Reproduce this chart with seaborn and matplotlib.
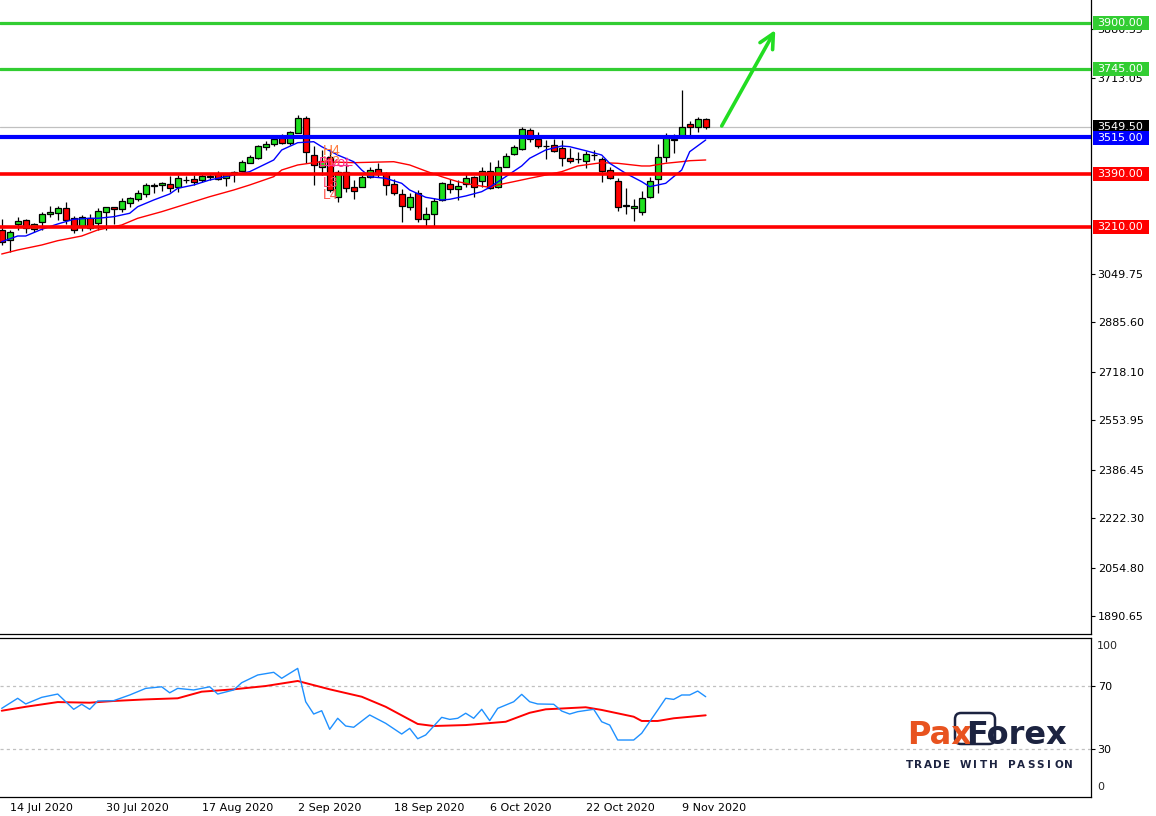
import numpy as np
import pandas as pd
import matplotlib
matplotlib.use("Agg")
import matplotlib.pyplot as plt
import matplotlib.transforms as mtransforms
from matplotlib.patches import Rectangle, FancyBboxPatch
import seaborn as sns

sns.set_style("white")
plt.rcParams["font.family"] = ["DejaVu Sans"]

# ---------------- data ----------------
dates = pd.bdate_range("2020-07-13", "2020-11-12")

opens = [3198.8, 3164.9, 3219.2, 3231.7, 3201.2, 3224.9, 3252.0, 3255.4, 3272.4, 3238.5,
         3212.4, 3240.5, 3223.6, 3260.9, 3275.8, 3270.0, 3291.3, 3303.9, 3319.8, 3347.9,
         3350.3, 3354.7, 3343.5, 3368.3, 3371.7, 3368.3, 3379.5, 3388.6, 3374.0, 3388.6,
         3399.8, 3426.9, 3441.8, 3479.1, 3489.3, 3509.6, 3492.7, 3528.6, 3577.4, 3453.0,
         3412.3, 3446.2, 3311.7, 3396.4, 3343.5, 3345.6, 3379.5, 3405.6, 3393.0, 3354.7,
         3320.8, 3277.8, 3324.2, 3235.1, 3252.0, 3300.5, 3353.7, 3336.8, 3353.7, 3377.4,
         3364.9, 3399.8, 3343.5, 3413.4, 3455.4, 3472.3, 3537.7, 3506.2, 3483.5, 3485.9,
         3475.7, 3442.8, 3439.4, 3433.7, 3452.5, 3439.4, 3402.2, 3364.9, 3281.5, 3274.4,
         3260.9, 3309.6, 3370.7, 3447.2, 3505.0, 3518.4, 3557.0, 3548.9, 3574.0]
highs = [3236.1, 3198.8, 3243.9, 3236.1, 3221.5, 3260.9, 3280.2, 3280.2, 3293.7, 3246.3,
         3249.7, 3253.1, 3272.4, 3277.8, 3277.8, 3307.3, 3311.7, 3334.4, 3357.1, 3357.1,
         3362.5, 3382.9, 3385.2, 3381.8, 3385.2, 3391.0, 3391.0, 3399.8, 3393.0, 3398.8,
         3436.1, 3453.0, 3486.9, 3499.4, 3513.0, 3524.2, 3535.4, 3588.6, 3586.2, 3483.5,
         3469.9, 3469.9, 3402.2, 3425.9, 3368.3, 3385.2, 3413.4, 3426.9, 3396.4, 3370.7,
         3336.8, 3324.2, 3334.4, 3276.8, 3307.3, 3362.5, 3370.7, 3368.3, 3393.0, 3381.8,
         3413.4, 3428.3, 3436.1, 3458.8, 3486.9, 3548.9, 3545.5, 3532.0, 3503.8, 3506.2,
         3503.8, 3475.7, 3464.2, 3467.6, 3470.0, 3447.2, 3411.3, 3376.1, 3342.2, 3303.9,
         3331.0, 3379.5, 3489.3, 3528.6, 3524.2, 3673.3, 3568.2, 3582.8, 3579.4]
lows = [3148.0, 3125.3, 3198.8, 3188.7, 3193.1, 3198.8, 3243.9, 3232.7, 3219.2, 3188.7,
        3195.4, 3198.8, 3198.8, 3198.8, 3219.2, 3260.9, 3277.8, 3298.1, 3311.7, 3323.2,
        3332.0, 3328.6, 3328.6, 3357.1, 3351.3, 3362.5, 3368.3, 3368.3, 3347.9, 3362.5,
        3396.4, 3424.9, 3438.4, 3469.9, 3483.5, 3490.3, 3486.9, 3526.6, 3424.9, 3351.3,
        3385.2, 3327.6, 3294.7, 3328.6, 3303.9, 3343.5, 3374.0, 3379.5, 3317.4, 3317.4,
        3227.0, 3266.6, 3227.0, 3212.4, 3210.0, 3298.1, 3323.2, 3300.5, 3345.6, 3311.7,
        3343.5, 3336.8, 3340.1, 3411.3, 3453.0, 3469.9, 3498.1, 3477.7, 3438.4, 3464.2,
        3415.7, 3424.9, 3426.9, 3407.9, 3436.1, 3362.5, 3370.7, 3264.2, 3253.1, 3230.3,
        3249.7, 3306.3, 3325.2, 3430.3, 3460.8, 3515.0, 3517.4, 3532.0, 3540.1]
closes = [3159.2, 3192.1, 3229.3, 3204.6, 3218.1, 3253.1, 3259.8, 3272.4, 3232.7, 3198.8,
          3241.9, 3204.6, 3263.2, 3275.8, 3269.0, 3297.1, 3306.3, 3324.2, 3351.3, 3352.3,
          3358.1, 3340.1, 3374.0, 3369.5, 3362.5, 3381.8, 3380.5, 3370.7, 3388.6, 3395.4,
          3429.3, 3447.2, 3483.5, 3490.3, 3506.2, 3492.7, 3529.9, 3577.4, 3462.2, 3419.1,
          3432.7, 3334.4, 3396.4, 3340.1, 3332.0, 3379.5, 3402.2, 3388.6, 3351.3, 3325.2,
          3280.2, 3309.6, 3236.1, 3253.1, 3297.1, 3357.1, 3336.8, 3347.9, 3374.0, 3345.6,
          3399.8, 3340.1, 3413.4, 3450.6, 3479.1, 3540.1, 3506.2, 3484.5, 3484.5, 3467.6,
          3441.8, 3433.7, 3439.0, 3455.4, 3453.0, 3399.8, 3374.0, 3277.8, 3282.0, 3281.2,
          3306.3, 3364.9, 3445.2, 3509.6, 3507.0, 3546.9, 3546.9, 3574.0, 3549.5]

# fast moving average (blue), read at candle indices
ma_fast_idx = [0, 2, 3, 5, 7, 9, 11, 12, 14, 16, 17, 19, 21, 22, 24, 26, 29, 31, 34, 35,
               37, 39, 40, 42, 44, 45, 46, 48, 50, 51, 53, 55, 56, 58, 60, 61, 63, 65, 66, 68,
               70, 71, 73, 75, 76, 78, 80, 81, 83, 85, 86, 88]
ma_fast = [3159.2, 3178.5, 3178.5, 3201.2, 3219.2, 3235.1, 3238.5, 3238.5, 3243.9, 3255.5,
           3277.8, 3300.5, 3320.9, 3340.2, 3351.4, 3368.3, 3385.3, 3396.5, 3436.1, 3470.0,
           3494.7, 3498.1, 3481.2, 3453.0, 3430.3, 3402.2, 3379.5, 3374.1, 3357.1, 3334.4,
           3309.7, 3300.5, 3302.9, 3314.1, 3328.7, 3343.6, 3379.5, 3416.0, 3441.9, 3470.0,
           3483.5, 3481.2, 3467.6, 3453.0, 3424.9, 3391.0, 3362.6, 3345.6, 3357.1, 3402.2,
           3464.2, 3503.9]
# slow moving average (red)
ma_slow_idx = [0, 2, 5, 7, 10, 12, 15, 17, 20, 22, 24, 26, 29, 31, 34, 35, 37, 39, 40, 44,
               49, 51, 53, 55, 57, 59, 61, 62, 64, 66, 67, 70, 72, 75, 77, 80, 81, 83, 85, 86, 88]
ma_slow = [3117.5, 3131.1, 3148.0, 3162.6, 3178.5, 3198.9, 3215.8, 3238.5, 3260.9, 3277.8,
           3294.8, 3311.7, 3334.4, 3351.4, 3379.5, 3402.2, 3419.2, 3427.0, 3430.3, 3427.0,
           3430.3, 3419.2, 3398.8, 3379.5, 3362.6, 3351.4, 3343.6, 3351.4, 3362.6, 3374.1,
           3379.5, 3396.5, 3415.8, 3427.0, 3424.9, 3415.8, 3415.8, 3424.9, 3430.3, 3433.7, 3436.1]

# oscillator (lower panel)
osc_idx = [0, 2, 3, 5, 7, 9, 10, 11, 12, 14, 16, 18, 20, 21, 22, 24, 26, 27, 29, 30,
           32, 34, 35, 37, 38, 39, 40, 41, 42, 43, 44, 46, 48, 50, 51, 52, 53, 55, 56, 57,
           58, 59, 60, 61, 62, 64, 65, 66, 67, 69, 70, 71, 72, 74, 75, 76, 77, 79, 80, 82,
           83, 84, 85, 86, 87, 88]
osc = [56.0, 62.4, 58.8, 63.0, 65.1, 55.4, 58.6, 55.4, 60.7, 60.9,
       64.5, 68.7, 69.7, 65.9, 68.7, 67.7, 69.7, 65.1, 67.7, 72.3,
       77.2, 78.9, 75.1, 81.4, 60.2, 52.4, 54.5, 42.7, 49.7, 44.8,
       44.0, 51.8, 46.5, 39.7, 43.3, 36.7, 39.1, 50.3, 49.0, 49.7,
       52.9, 49.7, 55.4, 48.2, 56.0, 60.2, 64.9, 60.2, 58.8, 58.6,
       54.3, 52.4, 53.9, 55.4, 47.5, 45.4, 35.9, 35.9, 40.2, 54.9,
       62.4, 61.7, 64.5, 64.5, 67.0, 63.4]
sig_idx = [0, 3, 7, 11, 14, 18, 22, 25, 29, 33, 37, 41, 45, 48, 52, 54, 58, 63, 66, 68,
           73, 75, 79, 80, 82, 84, 88]
sig = [54.5, 57.0, 60.0, 59.6, 60.7, 61.7, 62.4, 66.6, 68.1, 70.2, 73.4, 68.1, 63.4, 57.0,
       46.1, 44.8, 45.4, 47.5, 53.2, 55.4, 56.7, 55.0, 50.7, 48.0, 48.0, 49.7, 51.6]

# horizontal levels
green_levels = [3900.00, 3745.00]
blue_levels = [3515.00]
red_levels = [3390.00, 3210.00]
last_price = 3549.50

price_ticks = [1890.65, 2054.80, 2222.30, 2386.45, 2553.95, 2718.10, 2885.60, 3049.75,
               3713.05, 3880.35]
osc_ticks = [70, 30]
date_tick_idx = [1, 13, 25, 37, 49, 61, 73, 85]
date_tick_labels = ["14 Jul 2020", "30 Jul 2020", "17 Aug 2020", "2 Sep 2020",
                    "18 Sep 2020", "6 Oct 2020", "22 Oct 2020", "9 Nov 2020"]

pivot_labels = ["H4", "H3", "Pivot", "L3", "L4"]
pivot_values = [3468.0, 3428.0, 3426.0, 3358.0, 3318.0]
pivot_idx = 40.2

arrow_from = (90.0, 3551.3)
arrow_to = (96.7, 3876.6)

# ---------------- layout ----------------
W, H = 1156, 816
fig = plt.figure(figsize=(W / 100, H / 100), dpi=100)
fig.patch.set_facecolor("white")

ax_right = 1091
ax = fig.add_axes([0, 1 - 634 / H, ax_right / W, 634 / H])
ax2 = fig.add_axes([0, 1 - 797 / H, ax_right / W, (797 - 638) / H])

px_per_bar = 8.0
x0 = -1.7 / px_per_bar
xlim = (x0, x0 + ax_right / px_per_bar)
ylim_main = (3978.3 - 3.389 * 634, 3978.3)
ylim_osc = (-0.3, 100.7)

GREEN = "#32CD32"
BULL = "#1EE01E"

# ---------------- candles ----------------
o = np.array(opens); h = np.array(highs); l = np.array(lows); c = np.array(closes)
xs = np.arange(len(o))
body_bot = np.minimum(o, c)
body_h = np.maximum(np.abs(c - o), 0.3)
cols = np.where(c > o, BULL, "#FF0000")
ax.vlines(xs, l, h, color="black", lw=0.9, zorder=2)
ax.bar(xs, body_h, bottom=body_bot, width=0.72, color=cols, edgecolor="black",
       linewidth=0.9, zorder=2.5)

# moving averages
sns.lineplot(x=ma_slow_idx, y=ma_slow, ax=ax, color="#FF0000", lw=1.0, zorder=3)
sns.lineplot(x=ma_fast_idx, y=ma_fast, ax=ax, color="#0000FF", lw=1.0, zorder=3)

# levels
ax.axhline(last_price, color="#C0C0C0", lw=0.9, zorder=1)
for v in green_levels:
    ax.axhline(v, color=GREEN, lw=2.3, zorder=4)
for v in blue_levels:
    ax.axhline(v, color="#0000FF", lw=3.0, zorder=4)
for v in red_levels:
    ax.axhline(v, color="#FF0000", lw=2.6, zorder=4)

# pivot labels
piv_colors = ["#FF7A3D", "#FF7A3D", "#FF2E8A", "#FF4466", "#FF5A50"]
for lab, val, colr in zip(pivot_labels, pivot_values, piv_colors):
    ax.text(pivot_idx - 0.6 if lab == "Pivot" else pivot_idx, val, lab, color=colr,
            fontsize=10, family="Liberation Sans", va="center", ha="left", zorder=5)
ax.hlines(pivot_values[2] - 6, pivot_idx - 0.6, pivot_idx + 3.6, color="#FF2E8A", lw=0.8,
          zorder=5)

# arrow
ax.annotate("", xy=arrow_to, xytext=arrow_from,
            arrowprops=dict(arrowstyle="->", color="#22DD22", lw=2.6, mutation_scale=26,
                            shrinkA=0, shrinkB=0), annotation_clip=False, zorder=6)

ax.set_xlim(*xlim)
ax.set_ylim(*ylim_main)
ax.set_xticks([])
ax.yaxis.tick_right()
ax.set_yticks(price_ticks)
ax.set_yticklabels([f"{t:.2f}" for t in price_ticks])
ax.tick_params(axis="y", length=3, width=0.8, pad=1.8, labelsize=8, colors="black",
               direction="out")
for s in ["left", "top"]:
    ax.spines[s].set_visible(False)
for s in ["right", "bottom"]:
    ax.spines[s].set_color("black")
    ax.spines[s].set_linewidth(0.9)
ax.set_xlabel(""); ax.set_ylabel("")

# price boxes on the scale
tr = mtransforms.blended_transform_factory(ax.transAxes, ax.transData)
bx0 = 1093 / ax_right
bw = 56 / ax_right
half = 7 * 3.389


def price_box(val, face, text=None):
    ax.add_patch(Rectangle((bx0, val - half), bw, 2 * half, transform=tr, facecolor=face,
                           edgecolor="none", clip_on=False, zorder=6))
    ax.text(1097 / ax_right, val, text if text else f"{val:.2f}", transform=tr, color="white",
            fontsize=8, va="center", ha="left", clip_on=False, zorder=7)


for v in green_levels:
    price_box(v, GREEN)
price_box(last_price, "black")
for v in blue_levels:
    price_box(v - 3.389, "#0000FF", f"{v:.2f}")
for v in red_levels:
    price_box(v, "#FF0000")

# ---------------- oscillator ----------------
ax2.axhline(70, color="#C0C0C0", lw=0.9, ls=(0, (2.5, 2.5)), zorder=1)
ax2.axhline(30, color="#C0C0C0", lw=0.9, ls=(0, (2.5, 2.5)), zorder=1)
sns.lineplot(x=sig_idx, y=sig, ax=ax2, color="#FF0000", lw=1.4, zorder=3)
sns.lineplot(x=osc_idx, y=osc, ax=ax2, color="#1E90FF", lw=1.0, zorder=3)
ax2.set_xlim(*xlim)
ax2.set_ylim(*ylim_osc)
ax2.yaxis.tick_right()
ax2.set_yticks(osc_ticks)
ax2.set_yticklabels([str(t) for t in osc_ticks])
ax2.tick_params(axis="y", length=3, width=0.8, pad=1.8, labelsize=8, colors="black")
tr2 = mtransforms.blended_transform_factory(ax2.transAxes, ax2.transData)
ax2.text(1097 / ax_right, 95.5, "100", transform=tr2, fontsize=8, va="center", ha="left",
         clip_on=False)
ax2.text(1097 / ax_right, 6.0, "0", transform=tr2, fontsize=8, va="center", ha="left",
         clip_on=False)
ax2.set_xticks(date_tick_idx)
ax2.set_xticklabels(date_tick_labels, ha="left")
ax2.tick_params(axis="x", length=3, width=0.8, pad=1.5, labelsize=8, colors="black",
                direction="out")
ax2.spines["left"].set_visible(False)
for s in ["right", "bottom", "top"]:
    ax2.spines[s].set_color("black")
    ax2.spines[s].set_linewidth(0.9)
ax2.set_xlabel(""); ax2.set_ylabel("")

# ---------------- logo ----------------
ORANGE = "#E8531F"
NAVY = "#1C2340"
fig.add_artist(FancyBboxPatch((9.55, (H - 744) / 100), 0.40, 0.31,
                              boxstyle="round,pad=0,rounding_size=0.06",
                              transform=fig.dpi_scale_trans, facecolor="none",
                              edgecolor=NAVY, lw=1.8))
fig.text(907 / W, 1 - 744 / H, "Pax", color=ORANGE, fontsize=23, fontweight="bold",
         va="baseline", ha="left")
fig.text(966 / W, 1 - 744 / H, "Forex", color=NAVY, fontsize=23, fontweight="bold",
         va="baseline", ha="left")
tag = "TRADE WITH PASSION"
step = (1068 - 909) / (len(tag) - 1)
for k, ch in enumerate(tag):
    fig.text((909 + k * step) / W, 1 - 765 / H, ch, color=NAVY, fontsize=7.5,
             fontweight="bold", va="center", ha="center")

fig.savefig("out.png", dpi=100, facecolor="white")
